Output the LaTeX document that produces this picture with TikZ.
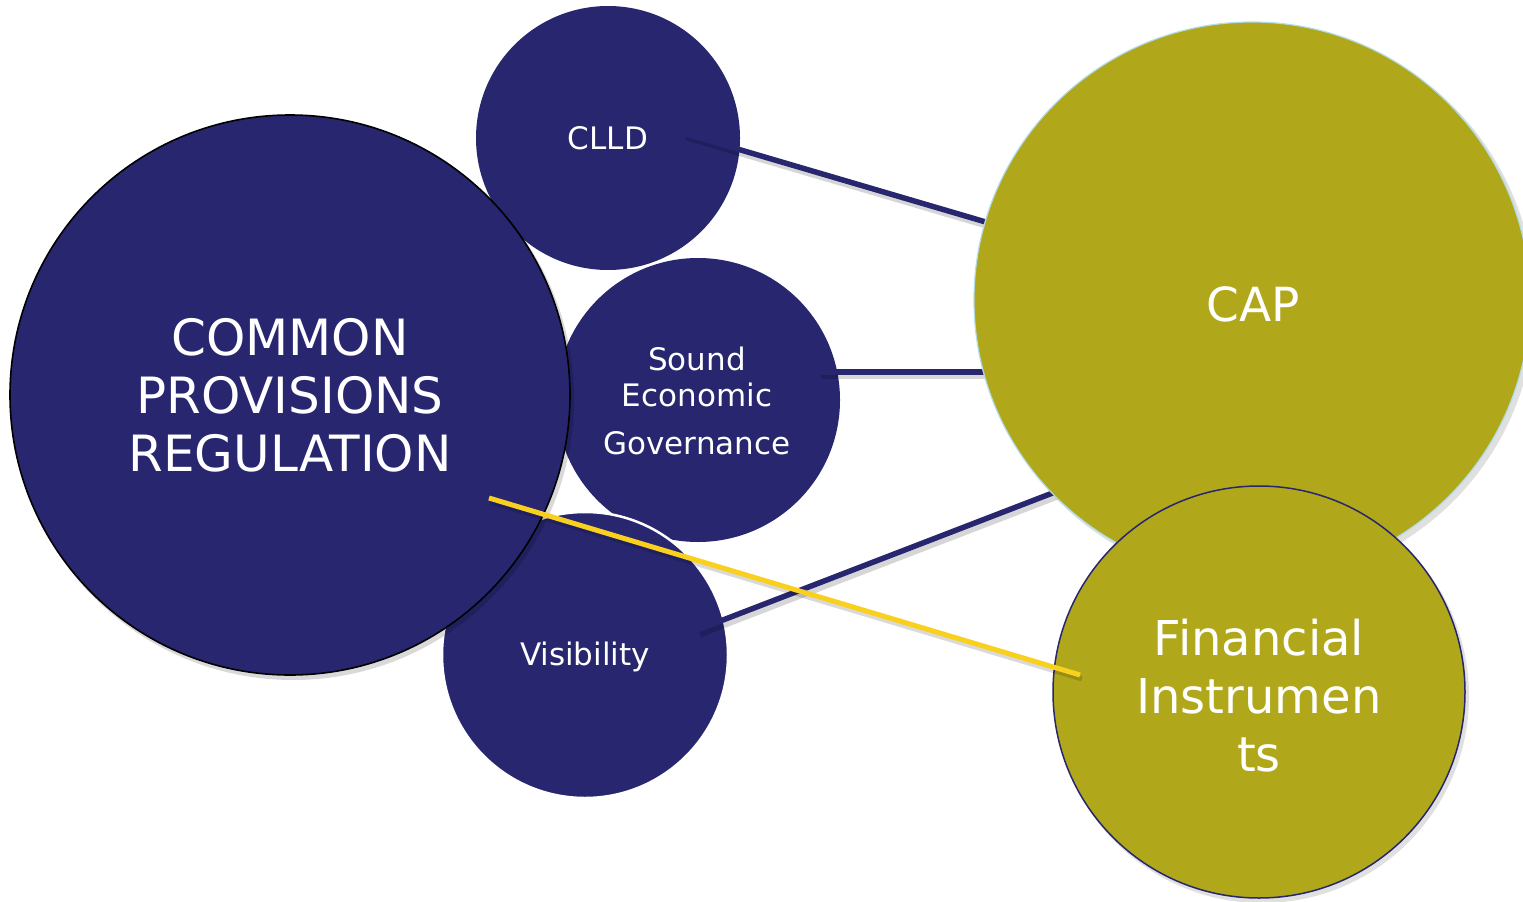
\documentclass[tikz,border=0pt]{standalone}
\usepackage{fontspec}
\setmainfont{DejaVu Sans}
\begin{document}
\begin{tikzpicture}[x=1pt,y=-1pt,
  navyc/.style={circle,fill=navy,inner sep=0pt,text=white,align=center},
  olivec/.style={circle,fill=olive,inner sep=0pt,text=white,align=center},
  link/.style={draw=navy,line width=5.5pt},
  linkshadow/.style={draw=black,opacity=0.16,line width=6.5pt},
  ylink/.style={draw=yline,line width=5pt}]
\definecolor{navy}{RGB}{39,38,111}
\definecolor{olive}{RGB}{176,168,26}
\definecolor{yline}{RGB}{250,208,30}
\definecolor{lightblue}{RGB}{178,220,232}
\useasboundingbox (0,0) rectangle (1523,902);
\clip (0,0) rectangle (1523,902);
% small navy circles
\node[navyc,minimum size=264pt,font=\fontsize{31}{36}\selectfont] (clld) at (608,138) {CLLD};
\node[navyc,minimum size=284pt] (seg) at (698,400) {};
\node[align=center,text=white,font=\fontsize{31}{36}\selectfont] (segt) at (697,401) {Sound\\Economic\\[12pt]Governance};
\node[navyc,draw=white,line width=2.5pt,minimum size=286pt] (vis) at (585,655) {};
\node[text=white,font=\fontsize{31}{36}\selectfont] (vist) at (585,657) {Visibility};
% big CPR circle
\fill[black,opacity=0.15] (293,399) circle (281);
\node[navyc,draw=black,line width=1.6pt,minimum size=560pt,font=\fontsize{50}{58}\selectfont] (cpr) at (290,395) {COMMON\\PROVISIONS\\REGULATION};
% navy connectors
\coordinate (s1) at (683,133);
\coordinate (s2) at (818,372);
\coordinate (s3) at (697,630);
\coordinate (e1) at (1200,285);
\coordinate (e2) at (1050,372);
\coordinate (e3) at (1120,467);
\draw[linkshadow] ([shift={(3,4)}]s1) -- ([shift={(3,4)}]e1);
\draw[linkshadow] ([shift={(3,4)}]s2) -- ([shift={(3,4)}]e2);
\draw[linkshadow] ([shift={(3,4)}]s3) -- ([shift={(3,4)}]e3);
\draw[link] (s1) -- (e1);
\draw[link] (s2) -- (e2);
\draw[link] (s3) -- (e3);
% CAP
\fill[black,opacity=0.12] (1256,304) circle (279);
\node[olivec,draw=lightblue,line width=1.2pt,minimum size=556pt] (cap) at (1252,300) {};
\node[text=white,font=\fontsize{47}{56}\selectfont] (capt) at (1253,304) {CAP};
% Financial Instruments
\fill[black,opacity=0.12] (1262,696) circle (207);
\node[olivec,draw=navy,line width=1.5pt,minimum size=412pt] (fi) at (1259,692) {};
\node[align=center,text=white,font=\fontsize{48}{58}\selectfont] (fit) at (1259,696) {Financial\\Instrumen\\ts};
% yellow connector
\coordinate (y1) at (489,498);
\coordinate (y2) at (1080,675);
\draw[black,opacity=0.15,line width=5pt] ([shift={(2,4)}]y1) -- ([shift={(2,4)}]y2);
\draw[ylink] (y1) -- (y2);
\end{tikzpicture}
\end{document}
